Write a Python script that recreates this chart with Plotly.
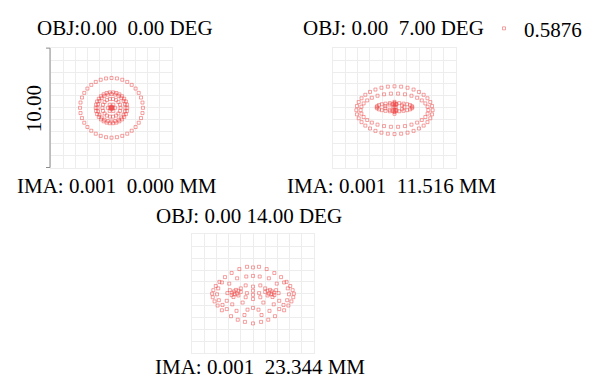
import plotly.graph_objects as go

W, H = 594, 383
OFF = 8  # page body margin
FW, FH = W - OFF, H - OFF
NB = "\u00a0"

# ---------------- data (spot coordinates, grid units; box = 10.00) ----------------
wavelength = "0.5876"
scale_label = "10.00"
obj_titles = ["OBJ:0.00" + NB * 2 + "0.00 DEG",
              "OBJ: 0.00" + NB * 2 + "7.00 DEG",
              "OBJ: 0.00 14.00 DEG"]
ima_titles = ["IMA: 0.001" + NB * 2 + "0.000 MM",
              "IMA: 0.001" + NB * 2 + "11.516 MM",
              "IMA: 0.001" + NB * 2 + "23.344 MM"]

# field 1 (0 deg)
f1_r6_x = [2.6, 2.56, 2.44, 2.25, 1.99, 1.67, 1.3, 0.89, 0.45, 0, -0.45, -0.89, -1.3, -1.67, -1.99, -2.25, -2.44, -2.56,
           -2.6, -2.56, -2.44, -2.25, -1.99, -1.67, -1.3, -0.89, -0.45, 0, 0.45, 0.89, 1.3, 1.67, 1.99, 2.25, 2.44, 2.56]
f1_r6_y = [0, 0.44, 0.86, 1.25, 1.61, 1.92, 2.17, 2.35, 2.46, 2.5, 2.46, 2.35, 2.17, 1.92, 1.61, 1.25, 0.86, 0.44,
           0, -0.44, -0.86, -1.25, -1.61, -1.92, -2.17, -2.35, -2.46, -2.5, -2.46, -2.35, -2.17, -1.92, -1.61, -1.25, -0.86, -0.44]
f1_r5_x = [1.3, 1.27, 1.19, 1.05, 0.87, 0.65, 0.4, 0.14, -0.14, -0.4, -0.65, -0.87, -1.05, -1.19, -1.27,
           -1.3, -1.27, -1.19, -1.05, -0.87, -0.65, -0.4, -0.14, 0.14, 0.4, 0.65, 0.87, 1.05, 1.19, 1.27]
f1_r5_y = [0, 0.27, 0.53, 0.76, 0.97, 1.13, 1.24, 1.29, 1.29, 1.24, 1.13, 0.97, 0.76, 0.53, 0.27,
           0, -0.27, -0.53, -0.76, -0.97, -1.13, -1.24, -1.29, -1.29, -1.24, -1.13, -0.97, -0.76, -0.53, -0.27]
f1_r4_x = [1.15, 1.11, 1.0, 0.81, 0.58, 0.3, 0, -0.3, -0.58, -0.81, -1.0, -1.11,
           -1.15, -1.11, -1.0, -0.81, -0.58, -0.3, 0, 0.3, 0.58, 0.81, 1.0, 1.11]
f1_r4_y = [0, 0.3, 0.58, 0.81, 1.0, 1.11, 1.15, 1.11, 1.0, 0.81, 0.58, 0.3,
           0, -0.3, -0.58, -0.81, -1.0, -1.11, -1.15, -1.11, -1.0, -0.81, -0.58, -0.3]
f1_r3_x = [0.75, 0.7, 0.57, 0.38, 0.13, -0.13, -0.38, -0.57, -0.7, -0.75, -0.7, -0.57, -0.38, -0.13, 0.13, 0.38, 0.57, 0.7]
f1_r3_y = [0, 0.26, 0.48, 0.65, 0.74, 0.74, 0.65, 0.48, 0.26, 0, -0.26, -0.48, -0.65, -0.74, -0.74, -0.65, -0.48, -0.26]
f1_r2_x = [0.3, 0.15, -0.15, -0.3, -0.15, 0.15]
f1_r2_y = [0, 0.26, 0.26, 0, -0.26, -0.26]
f1_r1_x = [0, 0.1, 0.05, -0.05, -0.1, -0.05, 0.05]
f1_r1_y = [0, 0, 0.08, 0.08, 0, -0.08, -0.08]

# field 2 (7 deg)
f2_r6_x = [3.1, 3.05, 2.91, 2.68, 2.37, 1.99, 1.55, 1.06, 0.54, 0, -0.54, -1.06, -1.55, -1.99, -2.37, -2.68, -2.91, -3.05,
           -3.1, -3.05, -2.91, -2.68, -2.37, -1.99, -1.55, -1.06, -0.54, 0, 0.54, 1.06, 1.55, 1.99, 2.37, 2.68, 2.91, 3.05]
f2_r6_y = [-0.2, 0.15, 0.48, 0.8, 1.09, 1.33, 1.53, 1.68, 1.77, 1.8, 1.77, 1.68, 1.53, 1.33, 1.09, 0.8, 0.48, 0.15,
           -0.2, -0.55, -0.88, -1.2, -1.49, -1.73, -1.93, -2.08, -2.17, -2.2, -2.17, -2.08, -1.93, -1.73, -1.49, -1.2, -0.88, -0.55]
f2_r5_x = [2.75, 2.69, 2.51, 2.22, 1.84, 1.38, 0.85, 0.29, -0.29, -0.85, -1.38, -1.84, -2.22, -2.51, -2.69,
           -2.75, -2.69, -2.51, -2.22, -1.84, -1.38, -0.85, -0.29, 0.29, 0.85, 1.38, 1.84, 2.22, 2.51, 2.69]
f2_r5_y = [-0.2, 0.09, 0.37, 0.62, 0.84, 1.01, 1.13, 1.19, 1.19, 1.13, 1.01, 0.84, 0.62, 0.37, 0.09,
           -0.2, -0.49, -0.77, -1.02, -1.24, -1.41, -1.53, -1.59, -1.59, -1.53, -1.41, -1.24, -1.02, -0.77, -0.49]
f2_r4_x = [1.45, 1.4, 1.26, 1.03, 0.73, 0.38, 0, -0.38, -0.73, -1.03, -1.26, -1.4,
           -1.45, -1.4, -1.26, -1.03, -0.73, -0.38, 0, 0.38, 0.73, 1.03, 1.26, 1.4]
f2_r4_y = [0.05, 0.14, 0.23, 0.3, 0.35, 0.39, 0.4, 0.39, 0.35, 0.3, 0.23, 0.14,
           0.05, -0.04, -0.13, -0.2, -0.25, -0.29, -0.3, -0.29, -0.25, -0.2, -0.13, -0.04]
f2_r3_x = [0.8, 0.61, 0.14, -0.4, -0.75, -0.75, -0.4, 0.14, 0.61]
f2_r3_y = [0.05, 0.21, 0.3, 0.27, 0.14, -0.04, -0.17, -0.2, -0.11]
f2_core_x = [0, 0, 0, 0, 0, 0, 0.1, -0.1, 0.15, -0.15, 0.15, -0.15, 0]
f2_core_y = [0.5, 0.35, 0.2, -0.2, -0.35, -0.5, 0.05, 0.05, 0.3, 0.3, -0.25, -0.25, 0.05]

# field 3 (14 deg)
f3_right_x = [0.49, 1.12, 1.75, 2.3, 2.75, 3.05, 3.25, 3.35, 3.3, 3.15, 2.9, 2.55, 1.8, 1.25, 0.66,
              2.55, 2.85, 2.95, 2.8, 2.5, 2.15,
              0.55, 1.3, 1.95, 0.6, 1.0,
              1.0, 1.2, 1.4, 1.55, 1.7, 1.3, 1.5, 1.75, 1.2, 1.6, 1.9, 2.1,
              0.5, 0.6, 0.85, 1.7, 1.35, 0.7, 2.15, 0.45]
f3_right_y = [2.27, 2.08, 1.75, 1.4, 1.0, 0.65, 0.3, 0.0, -0.3, -0.65, -1.0, -1.4, -1.9, -2.2, -2.38,
              0.95, 0.45, -0.05, -0.55, -0.95, -1.3,
              1.45, 1.3, 0.85, 0.7, 0.45,
              0.15, 0.25, 0.32, 0.2, 0.08, 0.0, -0.05, -0.12, -0.15, -0.28, 0.3, 0.05,
              0.05, -0.3, -0.75, -0.9, -1.45, -1.8, -0.6, -1.35]
f3_left_x = [-0.49, -1.12, -1.75, -2.3, -2.75, -3.05, -3.25, -3.35, -3.3, -3.15, -2.9, -2.55, -1.8, -1.25, -0.66,
             -2.55, -2.85, -2.95, -2.8, -2.5, -2.15,
             -0.55, -1.3, -1.95, -0.6, -1.0,
             -1.0, -1.2, -1.4, -1.55, -1.7, -1.3, -1.5, -1.75, -1.2, -1.6, -1.9, -2.1,
             -0.5, -0.6, -0.85, -1.7, -1.35, -0.7, -2.15, -0.45]
f3_left_y = [2.27, 2.08, 1.75, 1.4, 1.0, 0.65, 0.3, 0.0, -0.3, -0.65, -1.0, -1.4, -1.9, -2.2, -2.38,
             0.95, 0.45, -0.05, -0.55, -0.95, -1.3,
             1.45, 1.3, 0.85, 0.7, 0.45,
             0.15, 0.25, 0.32, 0.2, 0.08, 0.0, -0.05, -0.12, -0.15, -0.28, 0.3, 0.05,
             0.05, -0.3, -0.75, -0.9, -1.45, -1.8, -0.6, -1.35]
f3_mid_x = [0, 0, 0, 0, 0, 0, 0, 0]
f3_mid_y = [2.22, 1.5, 0.6, 0.25, -0.1, -0.45, -1.2, -2.51]

# ---------------- figure ----------------
FONT = "Liberation Serif, Times New Roman, serif"
MCOL = "rgba(240,70,70,0.5)"
FS = 21


def px_x(p):
    return (p - OFF) / FW


def px_y(p):
    return 1 - (p - OFF) / FH


panels = [
    dict(x=f1_r6_x + f1_r5_x + f1_r4_x + f1_r3_x + f1_r2_x + f1_r1_x,
         y=f1_r6_y + f1_r5_y + f1_r4_y + f1_r3_y + f1_r2_y + f1_r1_y,
         dx=(51, 172), dy=(38, 161)),
    dict(x=f2_r6_x + f2_r5_x + f2_r4_x + f2_r3_x + f2_core_x,
         y=f2_r6_y + f2_r5_y + f2_r4_y + f2_r3_y + f2_core_y,
         dx=(333, 456), dy=(38, 161)),
    dict(x=f3_right_x + f3_left_x + f3_mid_x,
         y=f3_right_y + f3_left_y + f3_mid_y,
         dx=(192, 314), dy=(230, 352)),
]

fig = go.Figure()
layout_axes = {}
for i, p in enumerate(panels):
    sfx = "" if i == 0 else str(i + 1)
    fig.add_trace(go.Scatter(
        x=p["x"], y=p["y"], mode="markers",
        xaxis="x" + sfx, yaxis="y" + sfx,
        name=wavelength, showlegend=(i == 0),
        marker=dict(symbol="square-open", size=3, color=MCOL, line=dict(width=1, color=MCOL)),
        hoverinfo="skip",
    ))
    ax = dict(range=[-5, 5], dtick=1, showgrid=True, gridcolor="#ededed", gridwidth=1,
              zeroline=False, showticklabels=False, ticks="", showline=True,
              linecolor="#ededed", mirror=True, fixedrange=True)
    layout_axes["xaxis" + sfx] = dict(ax, domain=[px_x(p["dx"][0]), px_x(p["dx"][1])],
                                      anchor="y" + sfx)
    layout_axes["yaxis" + sfx] = dict(ax, domain=[px_y(p["dy"][1]), px_y(p["dy"][0])],
                                      anchor="x" + sfx)

fig.update_layout(**layout_axes)

annotations = []
title_pos = [(125, 17), (393, 17), (249, 211)]
ima_pos = [(117, 180), (392, 180), (260, 367)]
for (tx, ty), t in zip(title_pos, obj_titles):
    annotations.append(dict(x=px_x(tx), y=px_y(ty), xref="paper", yref="paper", text=t,
                            showarrow=False, xanchor="center", yanchor="middle",
                            font=dict(size=FS, color="black", family=FONT)))
for (tx, ty), t in zip(ima_pos, ima_titles):
    annotations.append(dict(x=px_x(tx), y=px_y(ty), xref="paper", yref="paper", text=t,
                            showarrow=False, xanchor="center", yanchor="middle",
                            font=dict(size=FS, color="black", family=FONT)))
annotations.append(dict(x=px_x(34), y=px_y(101), xref="paper", yref="paper", text=scale_label,
                        showarrow=False, textangle=-90, xanchor="center", yanchor="middle",
                        font=dict(size=FS, color="black", family=FONT)))

shapes = [
    dict(type="line", xref="paper", yref="paper", x0=px_x(50), x1=px_x(50), y0=px_y(38), y1=px_y(161),
         line=dict(color="#8c8c8c", width=1)),
    dict(type="line", xref="paper", yref="paper", x0=px_x(46), x1=px_x(50), y0=px_y(38), y1=px_y(38),
         line=dict(color="#8c8c8c", width=1)),
    dict(type="line", xref="paper", yref="paper", x0=px_x(46), x1=px_x(50), y0=px_y(161), y1=px_y(161),
         line=dict(color="#8c8c8c", width=1)),
]

fig.update_layout(
    width=FW, height=FH,
    margin=dict(l=0, r=0, t=0, b=0),
    paper_bgcolor="white", plot_bgcolor="white",
    annotations=annotations, shapes=shapes,
    showlegend=True,
    legend=dict(x=px_x(484), y=px_y(18), xanchor="left", yanchor="middle",
                font=dict(size=FS, color="black", family=FONT),
                bgcolor="rgba(0,0,0,0)", borderwidth=0, itemwidth=30,
                itemsizing="trace"),
)

fig.write_html("out.html")
